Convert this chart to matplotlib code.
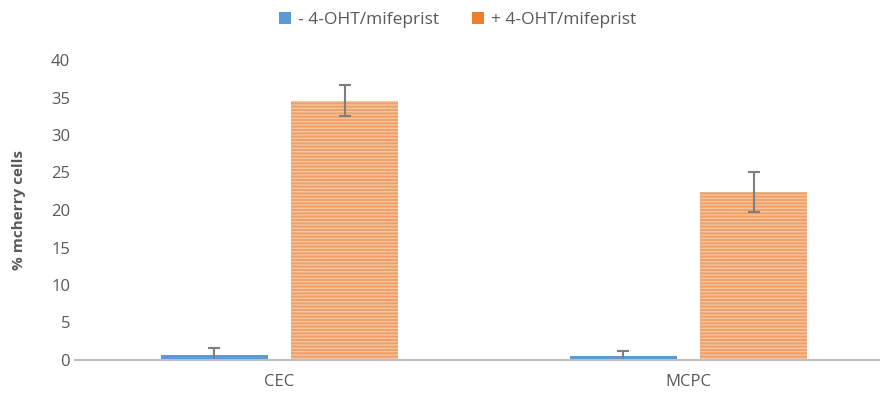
import numpy as np
import matplotlib
matplotlib.use("Agg")
import matplotlib.pyplot as plt

plt.rcParams['font.family'] = ['Open Sans', 'DejaVu Sans']
plt.rcParams['hatch.linewidth'] = 1.0

categories = ["CEC", "MCPC"]
minus_vals = [0.7, 0.5]
minus_err = [0.9, 0.7]
plus_vals = [34.6, 22.4]
plus_err = [2.1, 2.7]
series_names = ["- 4-OHT/mifeprist", "+ 4-OHT/mifeprist"]

fig = plt.figure(figsize=(8.8, 3.94), dpi=100)
ax = fig.add_axes([75 / 880, 34 / 394, 818 / 880, 300 / 394])

x = np.arange(len(categories))
w = 0.26
off = 0.159
err_kw = dict(ecolor='#7F7F7F', elinewidth=1.5, capsize=4, capthick=1.5)
ax.bar(x - off, minus_vals, w, yerr=minus_err, color='#5B9BD5',
       label=series_names[0], error_kw=err_kw, zorder=2)
ax.bar(x + off, plus_vals, w, yerr=plus_err, color='#F09F68',
       edgecolor='#F7C4A0', hatch='-----', linewidth=0,
       label=series_names[1], error_kw=err_kw, zorder=2)

ax.set_xlim(-0.5, 1.5)
ax.set_ylim(0, 40)
ax.set_yticks(range(0, 41, 5))
ax.set_xticks(x)
ax.set_xticklabels(categories)
ax.set_ylabel("% mcherry cells", fontsize=11, fontweight='bold', color='#595959',
              labelpad=18)
ax.tick_params(axis='both', colors='#595959', labelsize=12, length=0)
ax.tick_params(axis='x', pad=10)
for s in ['top', 'right', 'left']:
    ax.spines[s].set_visible(False)
ax.spines['bottom'].set_color('#BFBFBF')
ax.spines['bottom'].set_linewidth(1.5)

leg = fig.legend(loc='upper center', bbox_to_anchor=(0.52, 1.01), ncol=2, frameon=False,
                 fontsize=12.5, handlelength=0.7, handleheight=0.7, handletextpad=0.4,
                 columnspacing=1.9, labelcolor='#595959')
# legend swatches are plain fills in the original
for h in leg.legend_handles:
    h.set_hatch(None)
leg.legend_handles[1].set_facecolor('#ED7D31')

fig.savefig("out.png", dpi=100)
